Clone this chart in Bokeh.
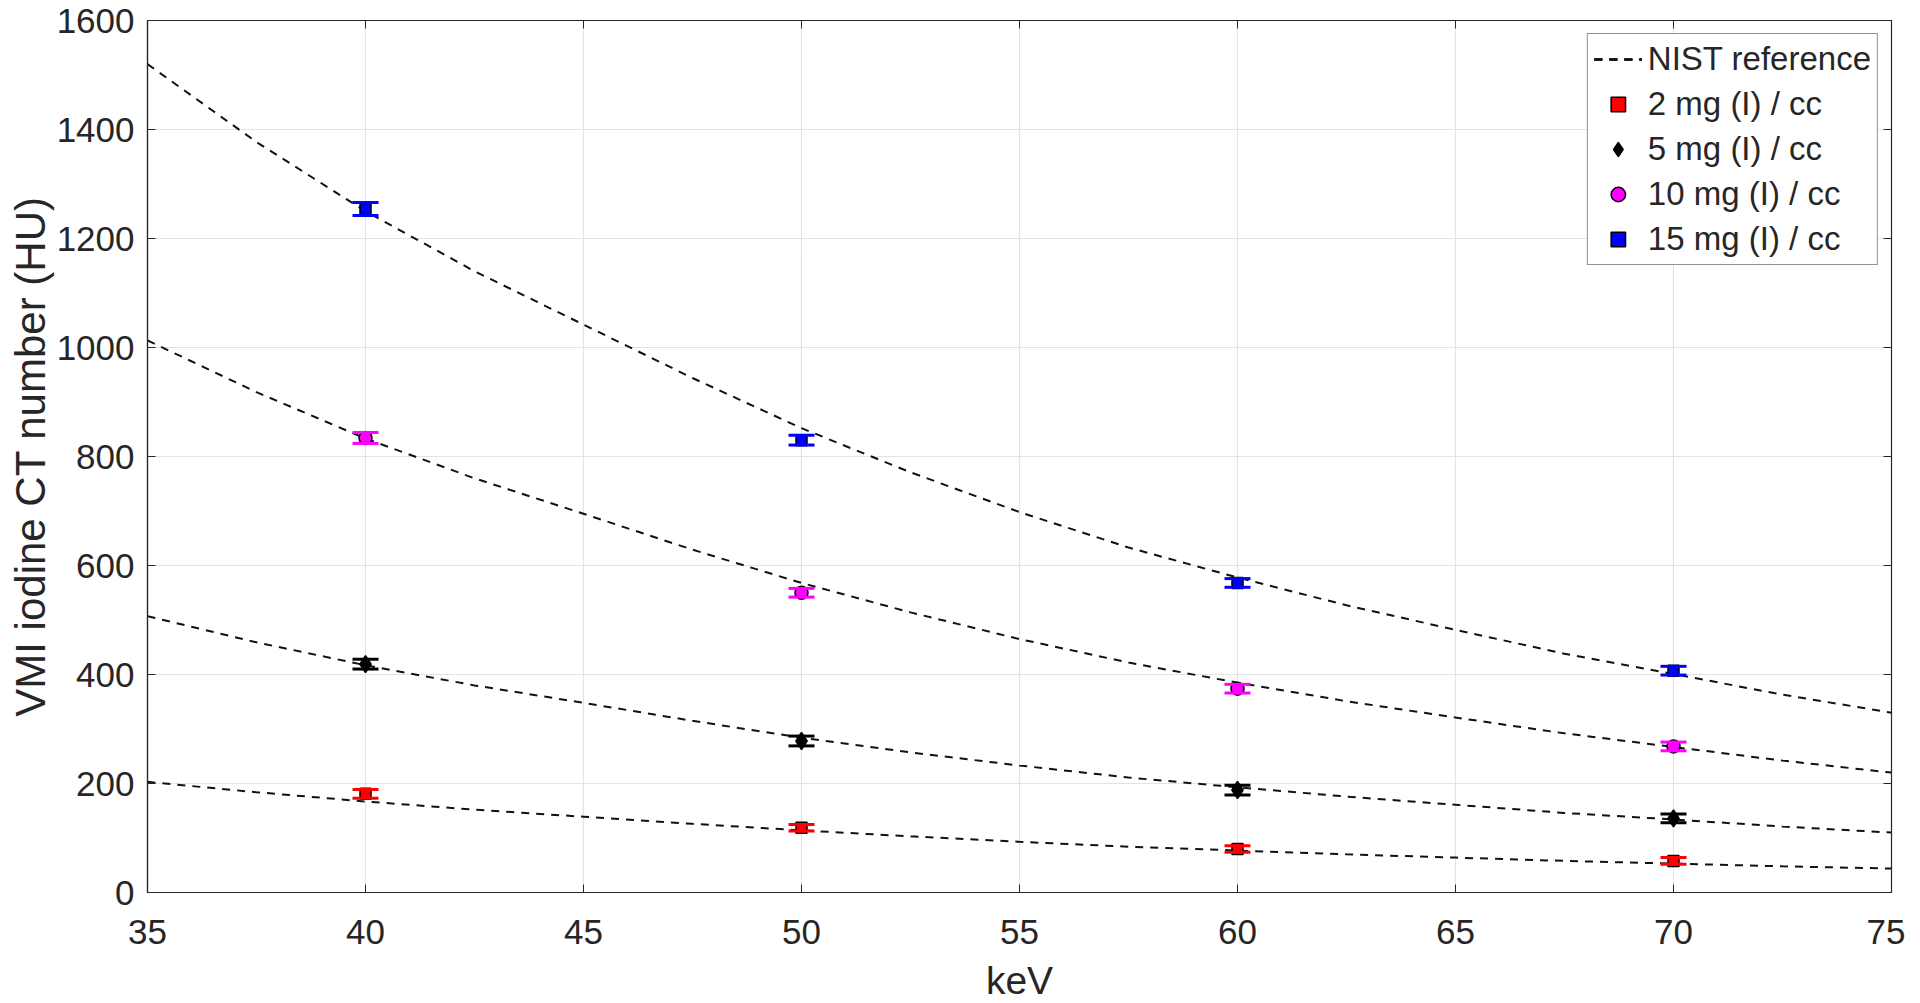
from bokeh.plotting import figure
from bokeh.models import (ColumnDataSource, Whisker, TeeHead, LinearAxis,
                          FixedTicker, Range1d, Legend, CustomJSTickFormatter)
from bokeh.embed import file_html
from bokeh.resources import INLINE

# ---- data ----
kev_points = [40, 50, 60, 70]
mg2 = [181, 119, 80, 58]
mg5 = [419, 278, 188, 136]
mg10 = [834, 550, 374, 268]
mg15 = [1254, 830, 568, 407]
err2 = [8, 6, 6, 6]
err5 = [9, 9, 9, 8]
err10 = [10, 8, 8, 8]
err15 = [12, 9, 8, 8]

nist_kev = [35, 37.5, 40, 42.5, 45, 47.5, 50, 52.5, 55, 57.5, 60, 62.5, 65, 67.5, 70, 72.5, 75]
nist2 = [203, 184, 167, 152, 139, 126, 114, 103, 93, 84, 77, 70, 64, 58, 53, 48, 44]
nist5 = [507, 459, 417, 380, 348, 315, 284, 257, 233, 211, 193, 176, 161, 146, 134, 121, 110]
nist10 = [1013, 918, 833, 760, 695, 629, 568, 514, 465, 422, 385, 351, 321, 292, 267, 242, 220]
nist15 = [1520, 1377, 1250, 1140, 1042, 944, 852, 771, 698, 633, 578, 527, 482, 438, 401, 363, 330]

x_ticks = [35, 40, 45, 50, 55, 60, 65, 70, 75]
y_ticks = [0, 200, 400, 600, 800, 1000, 1200, 1400, 1600]

FONT = "Liberation Sans"
TXT = "#262626"
AX = "#262626"

p = figure(frame_width=1744, frame_height=872,
           x_range=Range1d(35, 75), y_range=Range1d(0, 1600),
           output_backend="svg", toolbar_location=None,
           min_border_left=147, min_border_right=14, min_border_top=20,
           min_border_bottom=100, background_fill_color="white",
           border_fill_color="white")

p.outline_line_color = AX
p.outline_line_width = 1.2

for ax in (p.xaxis[0], p.yaxis[0]):
    ax.major_label_text_font = FONT
    ax.major_label_text_font_size = "35px"
    ax.major_label_text_color = TXT
    ax.axis_label_text_font = FONT
    ax.axis_label_text_color = TXT
    ax.axis_label_text_font_style = "normal"
    ax.major_tick_in = 8
    ax.major_tick_out = 0
    ax.minor_tick_in = 0
    ax.minor_tick_out = 0
    ax.axis_line_color = AX
    ax.major_tick_line_color = AX
    ax.axis_line_width = 1.2

p.xaxis[0].ticker = FixedTicker(ticks=x_ticks)
p.yaxis[0].ticker = FixedTicker(ticks=y_ticks)
p.xaxis[0].axis_label = "keV"
p.yaxis[0].axis_label = "VMI iodine CT number (HU)"
p.xaxis[0].axis_label_text_font_size = "39px"
p.yaxis[0].axis_label_text_font_size = "42px"
p.xaxis[0].major_label_standoff = 27
p.yaxis[0].major_label_standoff = 13
p.xaxis[0].axis_label_standoff = 12
p.yaxis[0].axis_label_standoff = 0

# box ticks on top/right
blank = CustomJSTickFormatter(code="return ''")
for loc in ("right", "above"):
    a = LinearAxis(ticker=FixedTicker(ticks=y_ticks if loc == "right" else x_ticks),
                   formatter=blank, major_tick_in=8, major_tick_out=0,
                   minor_tick_in=0, minor_tick_out=0, axis_line_color=AX,
                   major_tick_line_color=AX, major_label_standoff=0,
                   major_label_text_font_size="10px")
    p.add_layout(a, loc)

p.xgrid.ticker = FixedTicker(ticks=x_ticks)
p.ygrid.ticker = FixedTicker(ticks=y_ticks)
p.grid.grid_line_color = "#e3e3e3"
p.grid.grid_line_width = 1.2

# NIST reference curves
nist_renderers = []
for ys in (nist15, nist10, nist5, nist2):
    r = p.line(nist_kev, ys, line_color="#111111", line_width=2, line_dash="8 7")
    nist_renderers.append(r)

series = [
    ("2 mg (I) / cc", mg2, err2, "square", "red", 11),
    ("5 mg (I) / cc", mg5, err5, "diamond", "black", 17),
    ("10 mg (I) / cc", mg10, err10, "circle", "magenta", 13),
    ("15 mg (I) / cc", mg15, err15, "square", "blue", 11),
]

items = [("NIST reference", nist_renderers)]
for label, ys, es, mk, col, sz in series:
    src = ColumnDataSource(dict(x=kev_points, y=ys,
                                upper=[v + e for v, e in zip(ys, es)],
                                lower=[v - e for v, e in zip(ys, es)]))
    w = Whisker(base="x", upper="upper", lower="lower", source=src,
                dimension="height", line_color=col, line_width=2,
                upper_head=TeeHead(size=26, line_color=col, line_width=3),
                lower_head=TeeHead(size=26, line_color=col, line_width=3),
                level="glyph")
    p.add_layout(w)
    r = p.scatter("x", "y", source=src, marker=mk, size=sz, fill_color=col,
                  line_color="black", line_width=1.5)
    items.append((label, [r]))

legend = Legend(items=items, location="top_right")
legend.label_text_font = FONT
legend.label_text_font_size = "33px"
legend.label_text_color = TXT
legend.glyph_width = 48
legend.glyph_height = 36
legend.label_height = 36
legend.spacing = 7
legend.padding = 6
legend.margin = 13
legend.label_standoff = 6
legend.border_line_color = AX
legend.border_line_width = 1.2
legend.background_fill_color = "white"
legend.background_fill_alpha = 1
p.add_layout(legend)

open("out.html", "w").write(file_html(p, INLINE))
